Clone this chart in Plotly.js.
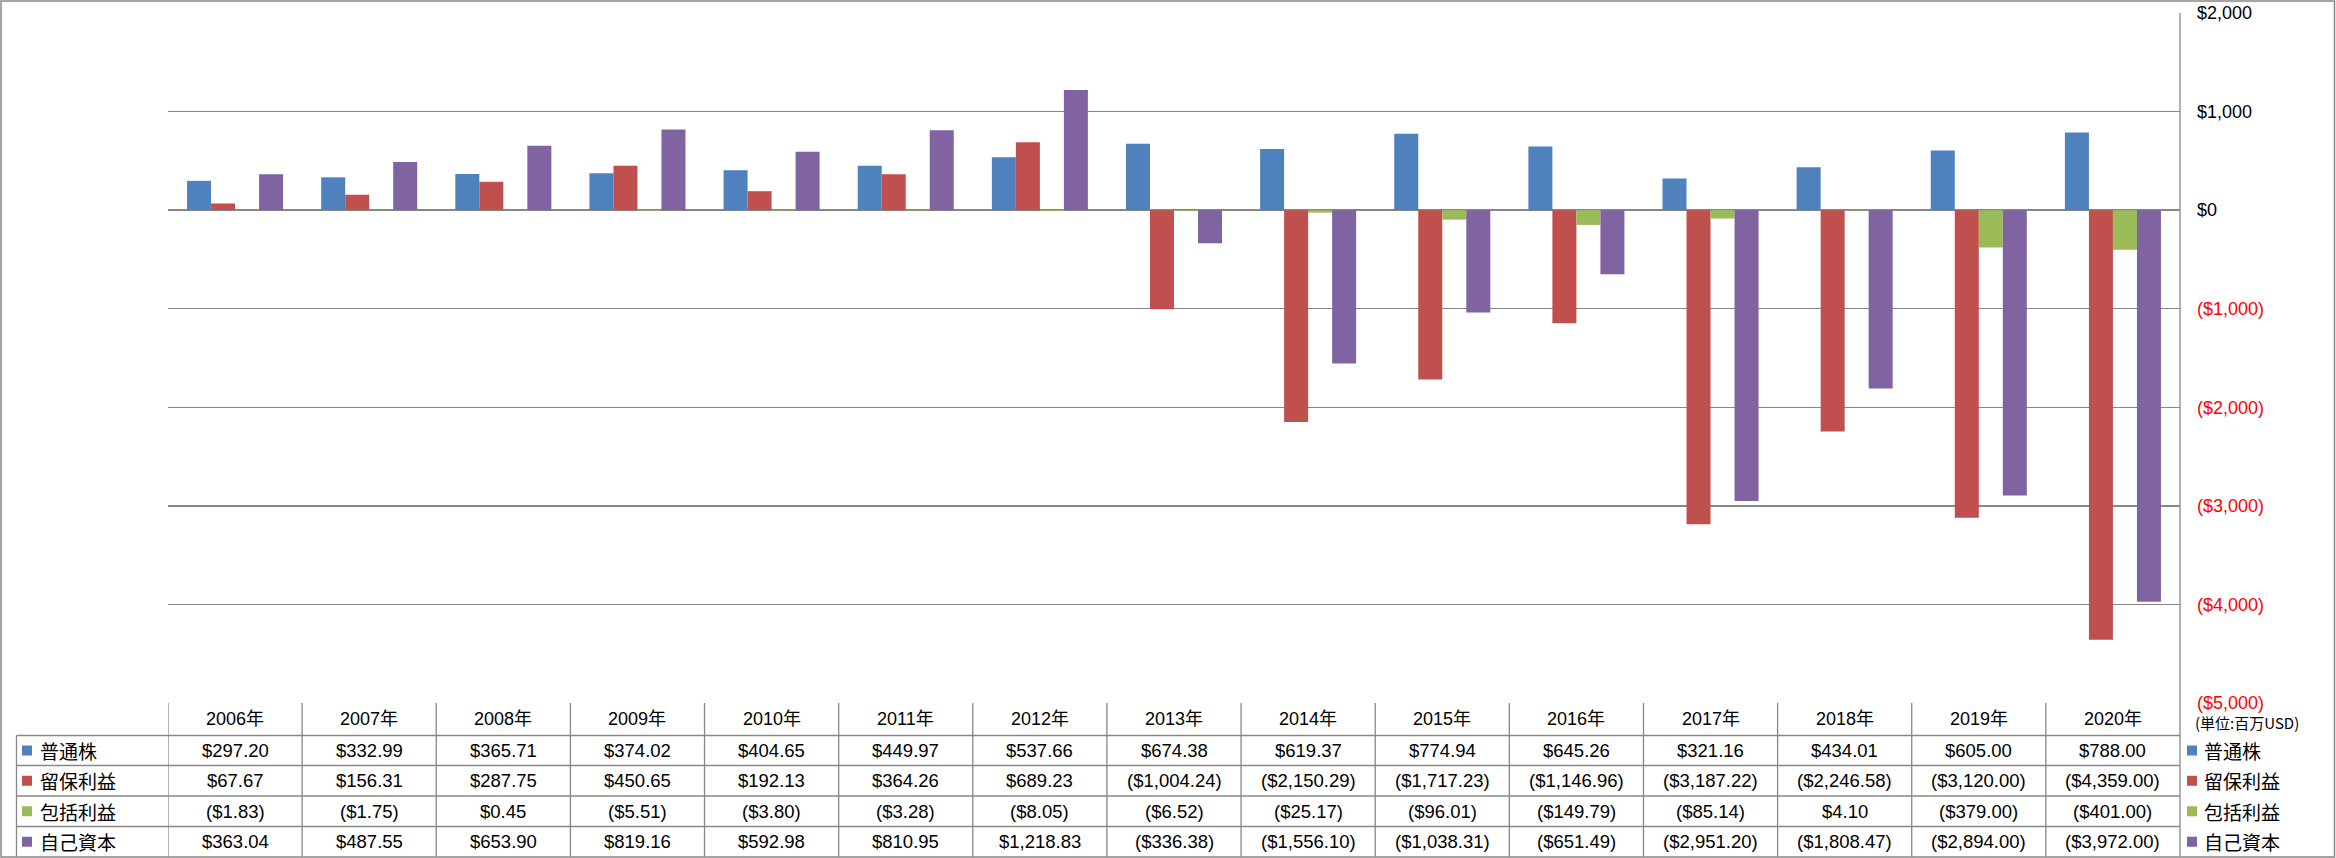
<!DOCTYPE html>
<html><head><meta charset="utf-8">
<script src="https://cdn.plot.ly/plotly-3.0.1.min.js"></script>
<style>html,body{margin:0;padding:0;background:#fff}#chart{width:2336px;height:858px}</style>
</head><body><div id="chart"></div>
<script>
const years = ['2006年','2007年','2008年','2009年','2010年','2011年','2012年','2013年','2014年','2015年','2016年','2017年','2018年','2019年','2020年'];
const seriesNames = ['普通株','留保利益','包括利益','自己資本'];
const commonStock = [297.20,332.99,365.71,374.02,404.65,449.97,537.66,674.38,619.37,774.94,645.26,321.16,434.01,605.00,788.00];
const retainedEarnings = [67.67,156.31,287.75,450.65,192.13,364.26,689.23,-1004.24,-2150.29,-1717.23,-1146.96,-3187.22,-2246.58,-3120.00,-4359.00];
const comprehensiveIncome = [-1.83,-1.75,0.45,-5.51,-3.80,-3.28,-8.05,-6.52,-25.17,-96.01,-149.79,-85.14,4.10,-379.00,-401.00];
const equity = [363.04,487.55,653.90,819.16,592.98,810.95,1218.83,-336.38,-1556.10,-1038.31,-651.49,-2951.20,-1808.47,-2894.00,-3972.00];
const yTicks = [2000,1000,0,-1000,-2000,-3000,-4000,-5000];
const unitLabel = '(単位:百万USD)';

const colors = ['#4F81BD','#C0504D','#9BBB59','#8064A2'];
const allSeries = [commonStock, retainedEarnings, comprehensiveIncome, equity];

const W=2336,H=858,L=168,R=2180,T=13,B=703;
const px = v => (v-L)/(R-L);
const py = v => (B-v)/(B-T);
const gray = '#878787';
const numFont = 'Liberation Sans, Arial, Noto Sans CJK JP, sans-serif';
const cjkFont = 'Noto Sans CJK JP, sans-serif';

function fmt(v, dec){
  const a = Math.abs(v).toLocaleString('en-US',{minimumFractionDigits:dec,maximumFractionDigits:dec});
  return v < 0 ? '($'+a+')' : '$'+a;
}

const traces = allSeries.map((s,i)=>({
  type:'bar', name:seriesNames[i], x:years, y:s,
  marker:{color:colors[i]}, hoverinfo:'skip'
}));

const shapes = [];
const annotations = [];
const rowEdges = [703,735.5,765.5,796,826.5,857];
shapes.push({type:'rect',xref:'paper',yref:'paper',x0:px(1),x1:px(2334.5),y0:py(1),y1:py(857),line:{color:gray,width:1.5}});
shapes.push({type:'line',xref:'paper',yref:'paper',x0:1,x1:1,y0:1,y1:py(857),line:{color:gray,width:1.3}});
for(let j=0;j<years.length;j++){
  shapes.push({type:'line',xref:'x',yref:'paper',x0:j-0.5,x1:j-0.5,y0:py(rowEdges[0]),y1:py(rowEdges[5]),line:{color:gray,width:1.3}});
}
shapes.push({type:'line',xref:'paper',yref:'paper',x0:px(16.5),x1:px(16.5),y0:py(rowEdges[1]),y1:py(rowEdges[5]),line:{color:gray,width:1.3}});
for(let r=1;r<5;r++){
  shapes.push({type:'line',xref:'paper',yref:'paper',x0:px(16.5),x1:1,y0:py(rowEdges[r]),y1:py(rowEdges[r]),line:{color:gray,width:1.3}});
}
years.forEach((y,j)=>{
  annotations.push({xref:'x',yref:'paper',x:j,y:py((rowEdges[0]+rowEdges[1])/2),text:y,showarrow:false,
    xanchor:'center',yanchor:'middle',font:{family:numFont,size:18,color:'#000'}});
});
allSeries.forEach((s,i)=>{
  const cy = (rowEdges[i+1]+rowEdges[i+2])/2;
  s.forEach((v,j)=>{
    annotations.push({xref:'x',yref:'paper',x:j,y:py(cy),text:fmt(v,2),showarrow:false,
      xanchor:'center',yanchor:'middle',font:{family:numFont,size:18.5,color:'#000'}});
  });
  shapes.push({type:'rect',xref:'paper',yref:'paper',x0:px(22),x1:px(32),y0:py(cy-5),y1:py(cy+5),fillcolor:colors[i],line:{width:0}});
  annotations.push({xref:'paper',yref:'paper',x:px(38),y:py(cy),text:seriesNames[i],showarrow:false,
    xanchor:'left',yanchor:'middle',font:{family:cjkFont,size:19,color:'#000'}});
  shapes.push({type:'rect',xref:'paper',yref:'paper',x0:px(2187),x1:px(2197),y0:py(cy-5),y1:py(cy+5),fillcolor:colors[i],line:{width:0}});
  annotations.push({xref:'paper',yref:'paper',x:px(2202),y:py(cy),text:seriesNames[i],showarrow:false,
    xanchor:'left',yanchor:'middle',font:{family:cjkFont,size:19,color:'#000'}});
});
annotations.push({xref:'paper',yref:'paper',x:px(2193),y:py(723),text:unitLabel,showarrow:false,
  xanchor:'left',yanchor:'middle',font:{family:cjkFont,size:15,color:'#000'}});

const layout = {
  width:W,height:H,
  margin:{l:L,r:W-R,t:T,b:H-B,pad:0},
  paper_bgcolor:'#fff',plot_bgcolor:'#fff',
  showlegend:false,
  barmode:'group',bargap:0.284,bargroupgap:0,
  xaxis:{type:'category',range:[-0.5,years.length-0.5],showticklabels:false,showgrid:false,zeroline:false,showline:false,ticks:''},
  yaxis:{side:'right',range:[-5000,2000],tickvals:yTicks,
    ticktext:yTicks.map(v=> v<0 ? '<span style="color:#FF0000">'+fmt(v,0)+'</span>' : fmt(v,0)),
    showgrid:true,gridcolor:gray,gridwidth:1.3,zeroline:true,zerolinecolor:gray,zerolinewidth:1.3,
    showline:false,ticks:'',ticklabelstandoff:16,
    tickfont:{family:numFont,size:18,color:'#000'}},
  shapes:shapes,annotations:annotations,
  font:{family:numFont}
};
Plotly.newPlot('chart',traces,layout,{displayModeBar:false,staticPlot:true});
</script></body></html>
